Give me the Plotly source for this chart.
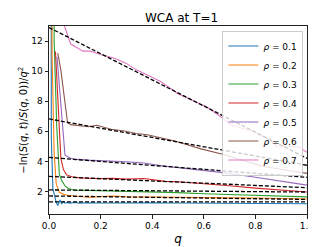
import plotly.graph_objects as go

rho_labels = ["0.1", "0.2", "0.3", "0.4", "0.5", "0.6", "0.7"]
colors = ["#1f77b4", "#ff7f0e", "#2ca02c", "#d62728", "#9467bd", "#8c564b", "#e377c2"]

q_01 = [0.006, 0.009, 0.015, 0.022, 0.028, 0.034, 0.043, 0.049, 0.055, 0.062, 0.07, 0.08, 0.1, 0.12,
        0.15, 0.2, 0.3, 0.4, 0.5, 0.6, 0.7, 0.8, 0.9, 1.0]
v_01 = [60, 5.5, 2.2, 1.6, 1.26, 1.06, 1.43, 1.16, 1.33, 1.22, 1.27, 1.22, 1.26, 1.22,
        1.25, 1.23, 1.25, 1.24, 1.23, 1.22, 1.21, 1.2, 1.19, 1.18]

q_02 = [0.008, 0.012, 0.02, 0.028, 0.04, 0.05, 0.059, 0.07, 0.08, 0.1, 0.13, 0.16, 0.2, 0.25, 0.3,
        0.4, 0.5, 0.6, 0.7, 0.8, 0.9, 1.0]
v_02 = [40, 11, 4.5, 2.52, 1.94, 1.85, 1.8, 1.75, 1.72, 1.7, 1.65, 1.62, 1.66, 1.69, 1.65,
        1.62, 1.6, 1.58, 1.57, 1.56, 1.53, 1.5]

q_03 = [0.015, 0.02, 0.03, 0.04, 0.05, 0.063, 0.075, 0.09, 0.1, 0.15, 0.2, 0.3, 0.4, 0.5, 0.6,
        0.7, 0.8, 0.9, 1.0]
v_03 = [40, 12, 6.3, 3.15, 2.7, 2.35, 2.2, 2.12, 2.08, 2.07, 2.05, 2.02, 1.98, 1.92, 1.85,
        1.8, 1.74, 1.69, 1.64]

q_04 = [0.025, 0.046, 0.056, 0.068, 0.09, 0.12, 0.15, 0.2, 0.25, 0.3, 0.367, 0.45, 0.5, 0.6,
        0.7, 0.8, 0.9, 1.0]
v_04 = [11.3, 4.2, 3.45, 3.1, 2.98, 2.9, 2.88, 2.85, 2.87, 2.82, 2.86, 2.67, 2.64, 2.52,
        2.38, 2.22, 2.1, 1.96]

q_05 = [0.031, 0.062, 0.084, 0.1, 0.15, 0.2, 0.3, 0.367, 0.45, 0.52, 0.6, 0.7, 0.8, 0.9, 1.0]
v_05 = [10.95, 4.41, 4.2, 4.15, 4.08, 4.05, 3.97, 3.89, 3.67, 3.55, 3.4, 3.2, 2.94, 2.68, 2.42]

q_06 = [0.034, 0.046, 0.072, 0.084, 0.153, 0.185, 0.241, 0.292, 0.337, 0.381, 0.488, 0.589,
        0.677, 0.75, 0.827, 0.94, 1.0]
v_06 = [11.2, 10.07, 6.55, 6.44, 6.3, 6.4, 6.13, 6.02, 5.85, 5.77, 5.35, 4.83,
        4.45, 4.05, 3.67, 3.36, 3.2]

q_07 = [0.04, 0.084, 0.132, 0.16, 0.197, 0.254, 0.298, 0.337, 0.367, 0.431, 0.5, 0.614, 0.67,
        0.70, 0.752, 0.79, 0.853, 0.884, 0.966, 1.0]
v_07 = [14.0, 11.8, 11.33, 11.33, 11.12, 10.85, 10.53, 10.1, 9.86, 9.33, 8.5, 7.6, 6.92,
        6.47, 6.19, 5.98, 5.46, 4.97, 4.97, 4.6]

q_series = [q_01, q_02, q_03, q_04, q_05, q_06, q_07]
v_series = [v_01, v_02, v_03, v_04, v_05, v_06, v_07]

# linear fits: value at q=0 and value at q=1
fit_q = [0.0, 1.0]
fit_at_0 = [1.3, 1.7, 2.1, 3.0, 4.26, 6.82, 12.9]
fit_at_1 = [1.3, 1.47, 1.96, 2.25, 2.94, 3.74, 4.2]

x_ticks = [0.0, 0.2, 0.4, 0.6, 0.8, 1.0]
y_ticks = [2, 4, 6, 8, 10, 12]

FONT = "DejaVu Sans"

fig = go.Figure()
for lab, col, qs, vs in zip(rho_labels, colors, q_series, v_series):
    fig.add_trace(go.Scatter(x=qs, y=vs, mode="lines", name=f"<i>ρ</i> = {lab}",
                             line=dict(color=col, width=1.1)))
for a, b in zip(fit_at_0, fit_at_1):
    fig.add_trace(go.Scatter(x=fit_q, y=[a, b], mode="lines", showlegend=False,
                             line=dict(color="black", width=1.3, dash="4px,2px")))

fig.update_layout(
    width=317, height=247,
    margin=dict(l=41, r=11, t=18, b=30),
    paper_bgcolor="white", plot_bgcolor="white",
    font=dict(family=FONT, size=9, color="black"),
    title=dict(text="WCA at T=1", x=(41 + 306) / 2 / 317, xanchor="center",
               y=1 - 10 / 247, yanchor="middle", font=dict(size=12)),
    showlegend=True,
    legend=dict(x=0.986, xanchor="right", y=0.976, yanchor="top",
                bgcolor="rgba(255,255,255,0.8)", bordercolor="#cccccc", borderwidth=1,
                font=dict(size=9), tracegroupgap=0),
    xaxis=dict(range=[0, 1], tickvals=x_ticks, ticktext=[f"{t:.1f}" for t in x_ticks],
               showgrid=False, zeroline=False, showline=True, mirror=True,
               linecolor="#222", linewidth=1, ticks="outside", ticklen=3.5, tickcolor="#222",
               title=dict(text="<i>q</i>", font=dict(size=12), standoff=4)),
    yaxis=dict(range=[0.5, 13], tickvals=y_ticks,
               showgrid=False, zeroline=False, showline=True, mirror=True,
               linecolor="#222", linewidth=1, ticks="outside", ticklen=3.5, tickcolor="#222"),
    annotations=[dict(text="−ln(<i>S</i>(<i>q</i>, <i>t</i>)/<i>S</i>(<i>q</i>, 0))/<i>q</i><sup>2</sup>",
                      xref="paper", yref="paper", x=-27 / 265, y=0.5, xanchor="center",
                      yanchor="middle", textangle=-90, showarrow=False,
                      font=dict(size=10))],
)

fig.write_html("out.html")
